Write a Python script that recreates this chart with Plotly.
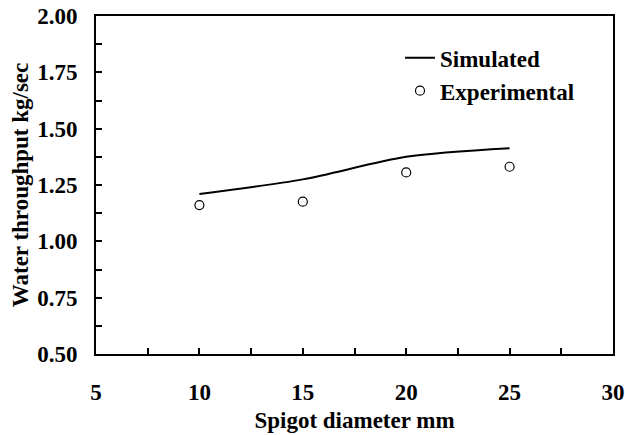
import plotly.graph_objects as go

diameter_sim = [10, 15, 20, 25]
throughput_sim = [1.21, 1.275, 1.375, 1.413]
diameter_exp = [10, 15, 20, 25]
throughput_exp = [1.161, 1.176, 1.306, 1.331]

FONT = "Liberation Serif"
FS = 23

fig = go.Figure()
fig.add_trace(go.Scatter(
    x=diameter_sim, y=throughput_sim, mode="lines", name="Simulated",
    line=dict(color="black", width=2, shape="spline", smoothing=0.8),
))
fig.add_trace(go.Scatter(
    x=diameter_exp, y=throughput_exp, mode="markers", name="Experimental",
    marker=dict(symbol="circle-open", size=9, color="black", line=dict(width=1.2, color="black")),
))

axis_common = dict(
    showgrid=False, zeroline=False, showline=True, linecolor="black", linewidth=2,
    mirror=True, ticks="inside", ticklen=6, tickwidth=2, tickcolor="black", automargin=False,
    tickfont=dict(family=FONT, size=FS, color="black", weight="bold"),
)

fig.update_xaxes(
    range=[5, 30], tickmode="linear", tick0=5, dtick=5, ticklabelstandoff=16,
    minor=dict(ticks="inside", ticklen=6, tickwidth=2, tickcolor="black", dtick=2.5, tick0=5),
    title=dict(text="Spigot diameter mm", font=dict(family=FONT, size=FS, color="black", weight="bold"), standoff=8),
    **axis_common,
)
fig.update_yaxes(
    range=[0.5, 2.0], tickmode="linear", tick0=0.5, dtick=0.25, tickformat=".2f", ticklabelstandoff=12,
    minor=dict(ticks="inside", ticklen=6, tickwidth=2, tickcolor="black", dtick=0.125, tick0=0.5),
    title=dict(text="Water throughput kg/sec", font=dict(family=FONT, size=FS, color="black", weight="bold"), standoff=2),
    **axis_common,
)

fig.update_layout(
    width=625, height=435,
    margin=dict(l=96, r=12, t=16, b=81),
    paper_bgcolor="white", plot_bgcolor="white",
    showlegend=True,
    legend=dict(
        x=0.588, y=0.94, xanchor="left", yanchor="top",
        bgcolor="rgba(0,0,0,0)", borderwidth=0,
        font=dict(family=FONT, size=FS, color="black", weight="bold"),
        itemwidth=30, tracegroupgap=0,
    ),
)

fig.write_html("out.html")
